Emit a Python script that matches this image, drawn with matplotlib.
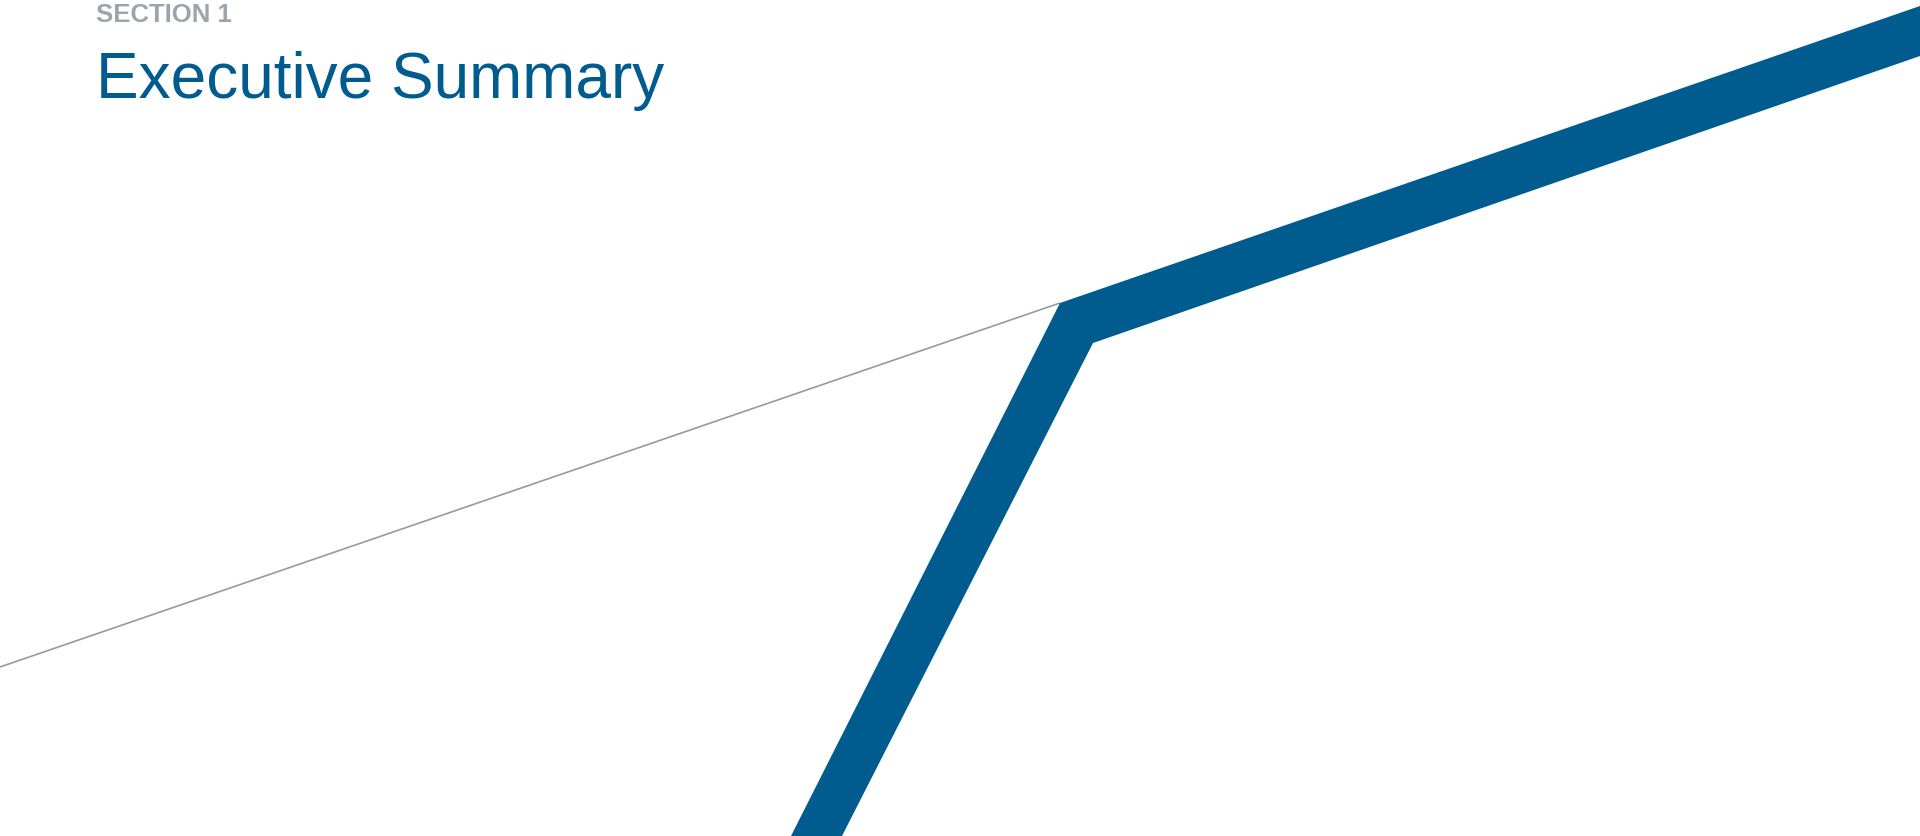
import matplotlib
matplotlib.use("Agg")
import matplotlib.pyplot as plt
from matplotlib.patches import Polygon

# Canvas (pixel space)
W, H = 1920, 836

# Thin grey guide line (x, y in pixels, y downward)
line_x = [0, 1060]
line_y = [667, 303]

# Blue chevron band vertices
band_x = [1060, 1920, 1920, 1093, 842, 791]
band_y = [303, 6, 56, 343, 836, 836]

section_label = "SECTION 1"
title_label = "Executive Summary"

BLUE = "#005B8F"
GREY_TEXT = "#9BA5AD"
GREY_LINE = "#9A9A9A"

fig = plt.figure(figsize=(W / 100, H / 100), dpi=100)
ax = fig.add_axes([0, 0, 1, 1])
ax.set_xlim(0, W)
ax.set_ylim(H, 0)
ax.axis("off")

ax.plot(line_x, line_y, color=GREY_LINE, lw=1.2, solid_capstyle="butt", zorder=1)
ax.add_patch(Polygon(list(zip(band_x, band_y)), closed=True, facecolor=BLUE,
                     edgecolor="none", zorder=2))

ax.text(96, 22, section_label, fontsize=18.5, fontweight="bold", color=GREY_TEXT,
        family=["Liberation Sans", "DejaVu Sans"], va="baseline", ha="left")
ax.text(96, 98, title_label, fontsize=46, color=BLUE,
        family=["Liberation Sans", "DejaVu Sans"], va="baseline", ha="left")

fig.savefig("out.png", dpi=100)
